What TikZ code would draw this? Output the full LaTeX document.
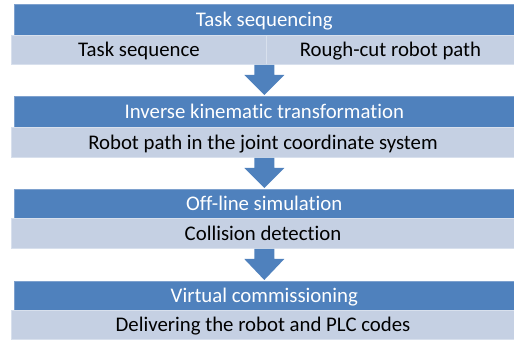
\documentclass[tikz,border=0pt]{standalone}
\usepackage{fontspec}
\setmainfont{Carlito}[Ligatures=NoCommon]
\usetikzlibrary{calc}
\definecolor{hdr}{HTML}{4F81BD}
\definecolor{hdredge}{HTML}{7EA1CE}
\definecolor{sub}{HTML}{C5D0E3}
\definecolor{subedge}{HTML}{D8E0ED}
\begin{document}
\begin{tikzpicture}[x=1pt,y=-1pt,
  hdrbox/.style={fill=hdr, draw=hdredge, line width=0.6pt, text=white, anchor=north west,
    inner sep=0pt, minimum width=500pt, font=\fontsize{20.8}{23}\selectfont,
    text height=13.4pt, text depth=0pt},
  subbox/.style={fill=sub, draw=subedge, line width=1pt, text=black, anchor=north west,
    inner sep=0pt, font=\fontsize{20.8}{23}\selectfont,
    text height=13.4pt, text depth=0pt},
  blockarrow/.style={fill=hdr, draw=none}]
\useasboundingbox (0,0) rectangle (514,344);

% Block 1
\node[hdrbox, minimum height=31pt] (h1) at (14,4) {Task sequencing};
\node[subbox, minimum width=255pt, minimum height=29pt] (s1a) at (11,35) {Task sequence};
\node[subbox, minimum width=248pt, minimum height=29pt] (s1b) at (266,35) {Rough-cut robot path};

% Block 2
\node[hdrbox, minimum height=31pt] (h2) at (14,96) {Inverse kinematic transformation};
\node[subbox, minimum width=503pt, minimum height=30pt] (s2) at (11,127) {Robot path in the joint coordinate system};

% Block 3
\node[hdrbox, minimum height=29pt] (h3) at (14,189) {Off-line simulation};
\node[subbox, minimum width=503pt, minimum height=30pt] (s3) at (11,218) {Collision detection};

% Block 4
\node[hdrbox, minimum height=29pt] (h4) at (14,281) {Virtual commissioning};
\node[subbox, minimum width=503pt, minimum height=29pt] (s4) at (11,310) {Delivering the robot and PLC codes};

% Block arrows
\coordinate (a1) at (s1a.south -| h1.south);
\coordinate (t1) at (h2.north);
\fill[blockarrow] ($(a1)+(-10,0)$) -- ($(a1)+(10,0)$) -- ($(a1)+(10,10)$) -- ($(a1)+(20,10)$)
  -- ($(t1)+(0,-1)$) -- ($(a1)+(-20,10)$) -- ($(a1)+(-10,10)$) -- cycle;

\coordinate (a2) at (s2.south -| h2.south);
\coordinate (t2) at (h3.north);
\fill[blockarrow] ($(a2)+(-10,0)$) -- ($(a2)+(10,0)$) -- ($(a2)+(10,10)$) -- ($(a2)+(20,10)$)
  -- ($(t2)+(0,-1)$) -- ($(a2)+(-20,10)$) -- ($(a2)+(-10,10)$) -- cycle;

\coordinate (a3) at (s3.south -| h3.south);
\coordinate (t3) at (h4.north);
\fill[blockarrow] ($(a3)+(-10,0)$) -- ($(a3)+(10,0)$) -- ($(a3)+(10,10)$) -- ($(a3)+(20,10)$)
  -- ($(t3)+(0,-1)$) -- ($(a3)+(-20,10)$) -- ($(a3)+(-10,10)$) -- cycle;
\end{tikzpicture}
\end{document}
